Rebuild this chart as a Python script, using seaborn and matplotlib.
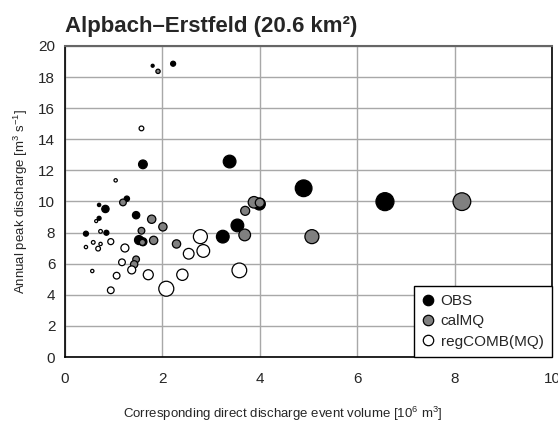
import seaborn as sns
import matplotlib.pyplot as plt
import pandas as pd
from matplotlib.lines import Line2D

sns.set_style("white")
plt.rcParams['font.family'] = ['Liberation Sans', 'DejaVu Sans']
plt.rcParams['mathtext.fontset'] = 'custom'
plt.rcParams['mathtext.rm'] = 'Liberation Sans'
plt.rcParams['mathtext.it'] = 'Liberation Sans:italic'

# observed events
obs_x = [1.80, 2.22, 1.60, 3.38, 1.27, 0.70, 0.83, 1.46, 0.70, 0.43, 0.85, 1.52, 1.60, 3.24, 3.54, 3.99, 4.90, 6.57]
obs_y = [18.73, 18.86, 12.39, 12.57, 10.18, 9.78, 9.52, 9.12, 8.92, 7.93, 7.99, 7.52, 7.41, 7.74, 8.46, 9.84, 10.85, 9.99]
obs_d = [3, 5, 8.7, 12.7, 5.3, 3.3, 7.3, 7.3, 4, 5, 5, 9, 8, 12.7, 12.7, 12, 16.7, 18]

# calibrated with MQ
cal_x = [1.91, 1.19, 1.78, 2.01, 1.57, 1.59, 1.82, 2.29, 1.46, 1.42, 3.70, 3.88, 4.00, 3.69, 5.07, 8.15]
cal_y = [18.37, 9.94, 8.86, 8.37, 8.12, 7.37, 7.50, 7.27, 6.28, 5.96, 9.40, 9.95, 9.92, 7.85, 7.74, 9.99]
cal_d = [4.3, 6.7, 8.3, 8.3, 6.7, 6, 8.3, 8.3, 6.7, 7.3, 9, 11.5, 9, 11.7, 14, 17.7]

# regionalised (combined, MQ)
reg_x = [1.57, 1.04, 0.64, 0.73, 0.94, 0.58, 0.73, 0.43, 0.68, 1.23, 1.17, 1.37, 0.56, 1.06, 1.71, 0.94, 2.08, 2.78, 2.54, 2.84, 2.41, 3.58]
reg_y = [14.7, 11.36, 8.74, 8.08, 7.42, 7.37, 7.27, 7.07, 6.97, 7.01, 6.09, 5.60, 5.53, 5.23, 5.29, 4.29, 4.39, 7.74, 6.64, 6.82, 5.29, 5.57]
reg_d = [4.7, 3.3, 3, 3.7, 6, 3.7, 3.3, 3.3, 4.7, 8, 6.7, 8, 3.3, 6.7, 10, 6.7, 15, 14, 10.7, 12.7, 11.3, 14.7]

series = ['OBS', 'calMQ', 'regCOMB(MQ)']
colors = {'OBS': 'black', 'calMQ': '#808080', 'regCOMB(MQ)': 'white'}

frames = []
for name, xs, ys, ds in [('OBS', obs_x, obs_y, obs_d),
                         ('calMQ', cal_x, cal_y, cal_d),
                         ('regCOMB(MQ)', reg_x, reg_y, reg_d)]:
    f = pd.DataFrame({'vol': xs, 'q': ys, 'd': ds})
    f['series'] = name
    frames.append(f)
df = pd.concat(frames, ignore_index=True)
# marker area in points^2 from pixel diameter (dpi 100)
df['s'] = (df['d'] * 0.72) ** 2

fig = plt.figure(figsize=(5.58, 4.23), dpi=100)
ax = fig.add_axes([65 / 558, 1 - 357 / 423, (552 - 65) / 558, (357 - 46) / 423])

for name in series:
    sub = df[df['series'] == name]
    sizes = {v: v for v in sub['s'].unique()}
    sns.scatterplot(data=sub, x='vol', y='q', size='s', sizes=sizes,
                    color=colors[name], edgecolor='black', linewidth=0.9,
                    legend=False, ax=ax, zorder=3)

ax.set_xlim(0, 10)
ax.set_ylim(0, 20)
ax.set_xticks(range(0, 11, 2))
ax.set_yticks(range(0, 21, 2))
ax.grid(True, color='#a8a8a8', linewidth=1)
ax.set_axisbelow(True)
ax.tick_params(direction='out', length=4, width=1, color='black', labelsize=11, pad=7)
ax.tick_params(axis='y', pad=3)
for side in ['left', 'bottom', 'right']:
    ax.spines[side].set_color('black')
    ax.spines[side].set_linewidth(1.2)
ax.spines['top'].set_color('#666666')
ax.spines['top'].set_linewidth(1.5)

ax.set_xlabel('Corresponding direct discharge event volume [10$^6$ m$^3$]', fontsize=9.5)
ax.xaxis.set_label_coords(0.447, -0.155)
ax.set_ylabel('Annual peak discharge [m$^3$ s$^{-1}$]', fontsize=9.5, labelpad=6)

fig.text(65 / 558, 1 - 32 / 423, 'Alpbach\u2013Erstfeld (20.6 km\u00b2)',
         fontsize=16, fontweight='bold', va='baseline', ha='left')

handles = [Line2D([], [], marker='o', linestyle='', markersize=7.5,
                  markerfacecolor=colors[n], markeredgecolor='black', markeredgewidth=0.9)
           for n in series]
leg = ax.legend(handles, series, loc='lower right', borderaxespad=0, fontsize=11,
                frameon=True, fancybox=False, edgecolor='black', framealpha=1,
                handlelength=0.8, handletextpad=0.4, labelspacing=0.4, borderpad=0.55)
leg.get_frame().set_linewidth(1)

fig.savefig('out.png', dpi=100)
